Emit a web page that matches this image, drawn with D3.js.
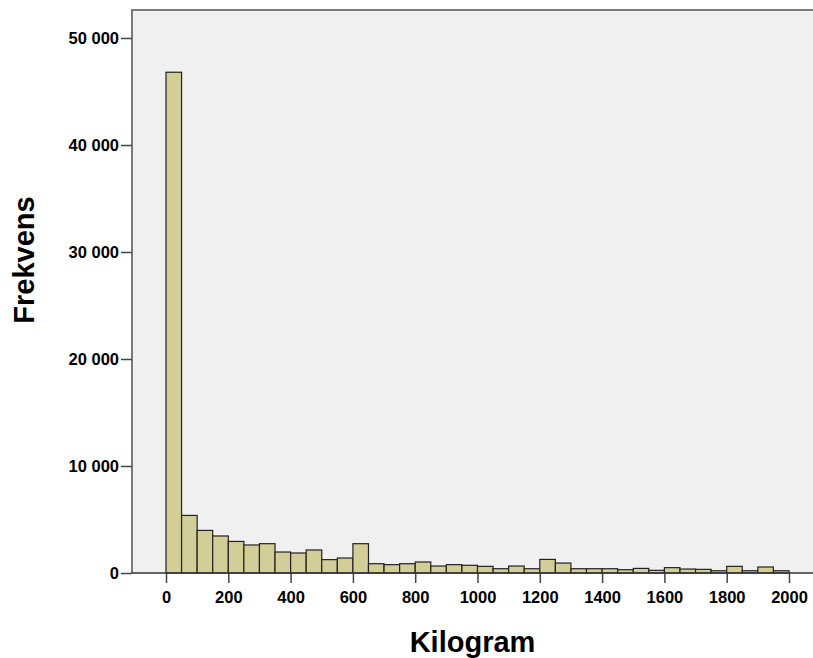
<!DOCTYPE html>
<html>
<head>
<meta charset="utf-8">
<script src="https://cdn.jsdelivr.net/npm/d3@7"></script>
<style>
  body { margin: 0; background: #fff; }
  text { font-family: "Liberation Sans", Arial, sans-serif; font-weight: bold; }
</style>
</head>
<body>
<svg id="chart" width="813" height="658"></svg>
<script>
// Histogram data: bin starts (kg) and frequencies
const binWidth = 50;
const binStarts = d3.range(0, 2000, binWidth);
const counts = [46800, 5380, 3980, 3460, 2950, 2620, 2740, 1960, 1870, 2150,
                1250, 1400, 2740, 870, 780, 870, 1030, 650, 780, 720,
                620, 400, 650, 400, 1270, 930, 400, 400, 400, 310,
                430, 250, 500, 370, 340, 210, 620, 210, 560, 210];
const xTicks = d3.range(0, 2001, 200);
const yTicks = [0, 10000, 20000, 30000, 40000, 50000];

const bins = binStarts.map((s, i) => ({x0: s, x1: s + binWidth, n: counts[i]}));

const svg = d3.select("#chart");
const plot = {left: 132, right: 813, top: 10, bottom: 573};

const x = d3.scaleLinear().domain([0, 2000]).range([166, 789]);
const y = d3.scaleLinear().domain([0, 50000]).range([573, 38]);

const fmt = d3.formatLocale({decimal: ",", thousands: " ", grouping: [3], currency: ["", ""]}).format(",d");

// plot background
svg.append("rect")
  .attr("x", plot.left).attr("y", plot.top)
  .attr("width", plot.right - plot.left).attr("height", plot.bottom - plot.top)
  .attr("fill", "#f0f0f0");

// bars
svg.append("g").selectAll("rect")
  .data(bins)
  .enter().append("rect")
  .attr("x", d => x(d.x0))
  .attr("y", d => y(d.n))
  .attr("width", d => x(d.x1) - x(d.x0))
  .attr("height", d => y(0) - y(d.n))
  .attr("fill", "#d3ce97")
  .attr("stroke", "#222")
  .attr("stroke-width", 1.2);

// frame (top + left)
svg.append("path")
  .attr("d", `M${plot.left},${plot.bottom}V${plot.top}H${plot.right}`)
  .attr("fill", "none").attr("stroke", "#7a7a7a").attr("stroke-width", 2);

// y axis
const yAxis = svg.append("g")
  .attr("transform", `translate(${plot.left},0)`)
  .call(d3.axisLeft(y).tickValues(yTicks).tickFormat(fmt).tickSize(11).tickPadding(2));
yAxis.select(".domain").remove();
yAxis.selectAll("line").attr("stroke", "#444").attr("stroke-width", 1.5);
yAxis.selectAll("text").attr("font-size", 16.5).attr("fill", "#000");

// x axis
const xAxis = svg.append("g")
  .attr("transform", `translate(0,${plot.bottom})`)
  .call(d3.axisBottom(x).tickValues(xTicks).tickFormat(d3.format("d")).tickSize(10).tickPadding(8));
xAxis.select(".domain").remove();
xAxis.selectAll("line").attr("stroke", "#444").attr("stroke-width", 1.5);
xAxis.selectAll("text").attr("font-size", 16.5).attr("fill", "#000");

// baseline
svg.append("line")
  .attr("x1", plot.left).attr("x2", plot.right)
  .attr("y1", plot.bottom).attr("y2", plot.bottom)
  .attr("stroke", "#333").attr("stroke-width", 1.5);

// axis titles
svg.append("text")
  .attr("x", (plot.left + plot.right) / 2).attr("y", 652)
  .attr("text-anchor", "middle").attr("font-size", 29)
  .text("Kilogram");

svg.append("text")
  .attr("transform", "translate(34,260) rotate(-90)")
  .attr("text-anchor", "middle").attr("font-size", 29)
  .text("Frekvens");
</script>
</body>
</html>
